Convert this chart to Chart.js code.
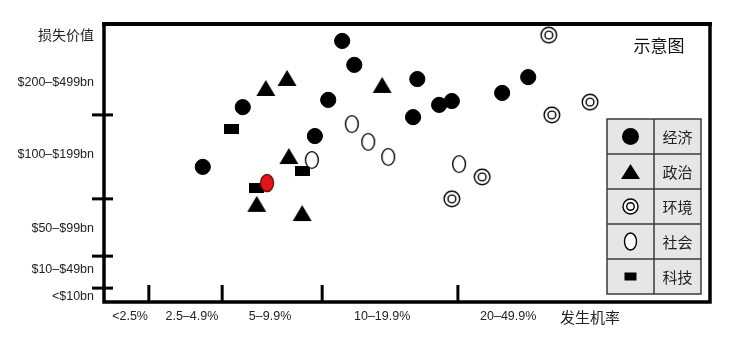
<!DOCTYPE html>
<html>
<head>
<meta charset="utf-8">
<script src="https://cdn.jsdelivr.net/npm/chart.js@4.4.1/dist/chart.umd.min.js"></script>
<style>
  html, body { margin: 0; padding: 0; background: #fff; }
  #wrap { width: 730px; height: 339px; position: relative; }
</style>
</head>
<body>
<div id="wrap"><canvas id="riskChart"></canvas></div>
<script>
// axis units: x and y both run 0..100 across the plot box
const xTicks = [7.4, 19.5, 36.0, 58.4];
const yTicks = [5.0, 16.5, 37.1, 67.3];
const xLabels = ['<2.5%', '2.5–4.9%', '5–9.9%', '10–19.9%', '20–49.9%', '发生机率'];
const xLabelAt = [4.3, 14.5, 27.4, 45.9, 66.7, 80.2];
const yLabels = ['损失价值', '$200–$499bn', '$100–$199bn', '$50–$99bn', '$10–$49bn', '<$10bn'];
const yLabelAt = [96.0, 78.8, 52.9, 26.6, 11.5, 1.8];
const chartNote = '示意图';

const legendNames = ['经济', '政治', '环境', '社会', '科技'];

const economic = [
  {x: 16.3, y: 48.6}, {x: 22.9, y: 70.1}, {x: 39.3, y: 93.9}, {x: 41.3, y: 85.3},
  {x: 37.0, y: 72.7}, {x: 34.8, y: 59.7}, {x: 51.7, y: 80.2}, {x: 51.0, y: 66.5},
  {x: 55.3, y: 70.9}, {x: 57.4, y: 72.3}, {x: 65.7, y: 75.2}, {x: 70.0, y: 80.9}
];
const political = [
  {x: 26.7, y: 77.0}, {x: 30.2, y: 80.6}, {x: 45.9, y: 78.1},
  {x: 30.5, y: 52.5}, {x: 25.2, y: 35.3}, {x: 32.7, y: 32.0}
];
const environmental = [
  {x: 73.4, y: 96.0}, {x: 73.9, y: 67.3}, {x: 80.2, y: 71.9}, {x: 62.4, y: 45.0}, {x: 57.4, y: 37.1}
];
const societal = [
  {x: 40.9, y: 64.0}, {x: 43.6, y: 57.6}, {x: 46.9, y: 52.2}, {x: 34.3, y: 51.1}, {x: 58.6, y: 49.6}
];
const technological = [
  {x: 21.1, y: 62.2}, {x: 32.7, y: 47.1}, {x: 25.1, y: 41.0}
];
const highlighted = [{x: 26.9, y: 42.8}];

const FONT = '"Liberation Sans", Arial, "Noto Sans CJK SC", sans-serif';
const CJK = '"Noto Sans CJK SC", sans-serif';

function makeMarker(w, h, draw) {
  const c = document.createElement('canvas');
  c.width = w; c.height = h;
  draw(c.getContext('2d'), w, h);
  return c;
}

function drawCircle(ctx, x, y, r) {
  ctx.fillStyle = '#000';
  ctx.beginPath(); ctx.arc(x, y, r, 0, Math.PI * 2); ctx.fill();
}
function drawTriangle(ctx, x, y, w, h) {
  ctx.fillStyle = '#000';
  ctx.beginPath();
  ctx.moveTo(x, y - h / 2); ctx.lineTo(x + w / 2, y + h / 2); ctx.lineTo(x - w / 2, y + h / 2);
  ctx.closePath(); ctx.fill();
}
function drawRings(ctx, x, y, r) {
  ctx.lineWidth = 1.4; ctx.strokeStyle = '#000'; ctx.fillStyle = '#fff';
  ctx.beginPath(); ctx.arc(x, y, r, 0, Math.PI * 2); ctx.fill(); ctx.stroke();
  ctx.beginPath(); ctx.arc(x, y, r * 0.5, 0, Math.PI * 2); ctx.stroke();
}
function drawOval(ctx, x, y, rx, ry, fill, stroke) {
  ctx.lineWidth = 1.4; ctx.strokeStyle = stroke; ctx.fillStyle = fill;
  ctx.beginPath(); ctx.ellipse(x, y, rx, ry, 0, 0, Math.PI * 2); ctx.fill(); ctx.stroke();
}
function drawBox(ctx, x, y, w, h) {
  ctx.fillStyle = '#000';
  ctx.fillRect(x - w / 2, y - h / 2, w, h);
}

const triMarker = makeMarker(20, 18, (c, w, h) => drawTriangle(c, w / 2, h / 2, 19, 16));
const ringMarker = makeMarker(20, 20, (c, w, h) => drawRings(c, w / 2, h / 2, 7.8));
const ovalMarker = makeMarker(16, 20, (c, w, h) => drawOval(c, w / 2, h / 2, 6.4, 8.4, '#fff', '#000'));
const rectMarker = makeMarker(15, 10, (c, w, h) => drawBox(c, w / 2, h / 2, 15, 10));
const redMarker = makeMarker(16, 20, (c, w, h) => drawOval(c, w / 2, h / 2, 6.5, 8.5, '#e3151b', '#6e0b0b'));

const framePlugin = {
  id: 'frame',
  afterDraw(chart) {
    const ctx = chart.ctx;
    const xs = chart.scales.x, ys = chart.scales.y;
    const a = chart.chartArea;
    ctx.save();
    ctx.strokeStyle = '#000';
    ctx.lineCap = 'butt';

    // box
    ctx.lineWidth = 4;
    ctx.beginPath(); ctx.moveTo(a.left - 2, a.top); ctx.lineTo(a.right + 2, a.top); ctx.stroke();
    ctx.lineWidth = 3.5;
    ctx.beginPath();
    ctx.moveTo(a.left, a.top); ctx.lineTo(a.left, a.bottom);
    ctx.lineTo(a.right, a.bottom); ctx.lineTo(a.right, a.top);
    ctx.stroke();

    // tick marks at band edges
    ctx.lineWidth = 3;
    yTicks.forEach(v => {
      const py = ys.getPixelForValue(v);
      ctx.beginPath(); ctx.moveTo(a.left - 12, py); ctx.lineTo(a.left + 9, py); ctx.stroke();
    });
    xTicks.forEach(v => {
      const px = xs.getPixelForValue(v);
      ctx.beginPath(); ctx.moveTo(px, a.bottom); ctx.lineTo(px, a.bottom - 17); ctx.stroke();
    });

    // tick labels
    ctx.fillStyle = '#222';
    ctx.textBaseline = 'middle';
    ctx.textAlign = 'right';
    yLabels.forEach((t, i) => {
      ctx.font = i === 0 ? '14px ' + CJK : '12.5px ' + FONT;
      ctx.fillText(t, a.left - 10, ys.getPixelForValue(yLabelAt[i]));
    });
    ctx.textAlign = 'center';
    xLabels.forEach((t, i) => {
      ctx.font = i === xLabels.length - 1 ? '15px ' + CJK : '12.5px ' + FONT;
      ctx.fillText(t, xs.getPixelForValue(xLabelAt[i]), a.bottom + 15);
    });

    ctx.font = '17px ' + CJK;
    ctx.fillStyle = '#111';
    ctx.fillText(chartNote, 659, 46);

    // legend table
    const lx = 607, ly = 119, cw1 = 47, cw2 = 47, rh = 35;
    ctx.fillStyle = '#e6e6e6';
    ctx.fillRect(lx, ly, cw1 + cw2, rh * legendNames.length);
    ctx.strokeStyle = '#3a3a3a';
    ctx.lineWidth = 1.5;
    ctx.strokeRect(lx, ly, cw1 + cw2, rh * legendNames.length);
    ctx.beginPath(); ctx.moveTo(lx + cw1, ly); ctx.lineTo(lx + cw1, ly + rh * legendNames.length); ctx.stroke();
    for (let i = 1; i < legendNames.length; i++) {
      ctx.beginPath(); ctx.moveTo(lx, ly + rh * i); ctx.lineTo(lx + cw1 + cw2, ly + rh * i); ctx.stroke();
    }
    ctx.font = '15px ' + CJK;
    ctx.fillStyle = '#222';
    legendNames.forEach((name, i) => {
      const cy = ly + rh * i + rh / 2;
      const cx = lx + cw1 / 2;
      if (i === 0) drawCircle(ctx, cx, cy, 8.5);
      if (i === 1) drawTriangle(ctx, cx, cy, 19, 15);
      if (i === 2) drawRings(ctx, cx, cy, 7.5);
      if (i === 3) drawOval(ctx, cx, cy, 6, 8.5, '#fff', '#000');
      if (i === 4) drawBox(ctx, cx, cy, 12, 8);
      ctx.fillStyle = '#222';
      ctx.fillText(name, lx + cw1 + cw2 / 2, cy + 1);
    });
    ctx.restore();
  }
};

new Chart(document.getElementById('riskChart'), {
  type: 'scatter',
  data: {
    datasets: [
      { label: '高亮', data: highlighted, pointStyle: redMarker, order: -1 },
      { label: legendNames[0], data: economic, pointStyle: 'circle', pointRadius: 7.6,
        backgroundColor: '#000', borderColor: '#000', borderWidth: 1 },
      { label: legendNames[1], data: political, pointStyle: triMarker },
      { label: legendNames[2], data: environmental, pointStyle: ringMarker },
      { label: legendNames[3], data: societal, pointStyle: ovalMarker },
      { label: legendNames[4], data: technological, pointStyle: rectMarker }
    ]
  },
  options: {
    responsive: true,
    maintainAspectRatio: false,
    animation: false,
    events: [],
    layout: { padding: { left: 104, top: 24, right: 20, bottom: 37 } },
    scales: {
      x: { type: 'linear', min: 0, max: 100, display: false },
      y: { type: 'linear', min: 0, max: 100, display: false }
    },
    datasets: { scatter: { clip: false } },
    plugins: { legend: { display: false }, tooltip: { enabled: false } }
  },
  plugins: [framePlugin]
});
</script>
</body>
</html>
